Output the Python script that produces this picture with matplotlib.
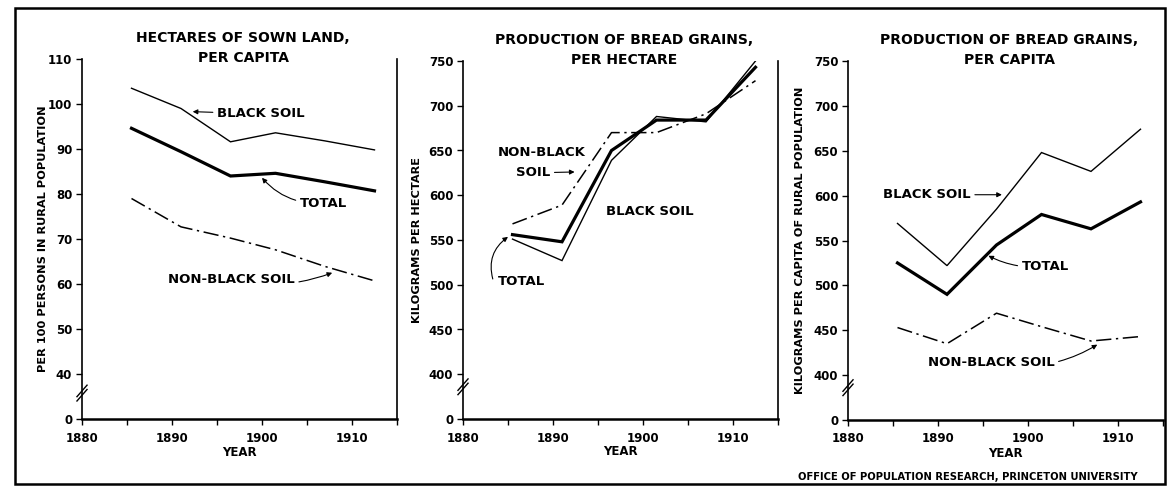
import numpy as np
import matplotlib.pyplot as plt
from matplotlib.patches import Rectangle

plt.rcParams['font.family'] = 'DejaVu Sans'
plt.rcParams['font.weight'] = 'bold'

### data
years = [1885.5, 1891, 1896.5, 1901.5, 1907, 1912.5]

# hectares of sown land per 100 persons in rural population
land_black = [103.5, 99.0, 91.6, 93.6, 91.8, 89.8]
land_total = [94.6, 89.4, 84.0, 84.6, 82.7, 80.7]
land_nonblack = [79.0, 72.7, 70.2, 67.6, 63.9, 60.7]

# kilograms of bread grains per hectare
yield_black = [551, 527, 639, 688, 682, 750]
yield_total = [556, 548, 650, 684, 684, 743]
yield_nonblack = [568, 589, 670, 670, 691, 728]

# kilograms of bread grains per capita of rural population
cap_black = [569, 522, 585, 648, 627, 674]
cap_total = [525, 490, 545, 579, 563, 593]
cap_nonblack = [453, 435, 469, 454, 438, 443]

land_ticks = [30, 40, 50, 60, 70, 80, 90, 100, 110]
land_ticklabels = ['0', '40', '50', '60', '70', '80', '90', '100', '110']
kg_ticks = [350, 400, 450, 500, 550, 600, 650, 700, 750]
kg_ticklabels = ['0', '400', '450', '500', '550', '600', '650', '700', '750']
year_ticks = [1880, 1890, 1900, 1910]
year_minor = [1885, 1895, 1905, 1915]

titles = ['HECTARES OF SOWN LAND,\nPER CAPITA',
          'PRODUCTION OF BREAD GRAINS,\nPER HECTARE',
          'PRODUCTION OF BREAD GRAINS,\nPER CAPITA']
ylabels = ['PER 100 PERSONS IN RURAL POPULATION',
           'KILOGRAMS PER HECTARE',
           'KILOGRAMS PER CAPITA OF RURAL POPULATION']

W, H = 1170, 486
fig = plt.figure(figsize=(W / 100, H / 100), dpi=100)


def px_axes(x0, x1, ytop, ybot):
    return fig.add_axes([x0 / W, 1 - ybot / H, (x1 - x0) / W, (ybot - ytop) / H])


ax1 = px_axes(82, 397, 59, 419)
ax2 = px_axes(463, 778, 61, 419)
ax3 = px_axes(848, 1163, 61, 420)
axes = [ax1, ax2, ax3]

dashdot = (0, (10, 3, 1.5, 3))
thin = 1.0
thick = 2.3

series = [(land_black, land_total, land_nonblack),
          (yield_black, yield_total, yield_nonblack),
          (cap_black, cap_total, cap_nonblack)]

for ax, (b, t, n) in zip(axes, series):
    ax.plot(years, b, color='k', lw=thin, solid_joinstyle='miter')
    ax.plot(years, t, color='k', lw=thick, solid_joinstyle='miter')
    ax.plot(years, n, color='k', lw=1.1, linestyle=dashdot)

ax1.set_ylim(30, 110)
ax1.set_yticks(land_ticks)
ax1.set_yticklabels(land_ticklabels)
for ax in (ax2, ax3):
    ax.set_ylim(350, 750)
    ax.set_yticks(kg_ticks)
    ax.set_yticklabels(kg_ticklabels)

brk = [0.072, 0.09, 0.09]
for i, ax in enumerate(axes):
    ax.set_xlim(1880, 1915)
    ax.set_xticks(year_ticks)
    ax.set_xticks(year_minor, minor=True)
    ax.tick_params(axis='both', which='both', direction='out', length=4,
                   width=1.0, labelsize=8.5, pad=3)
    ax.tick_params(axis='x', which='major', pad=5)
    ax.spines['top'].set_visible(False)
    for s in ('left', 'bottom', 'right'):
        ax.spines[s].set_linewidth(1.2)
    ax.spines['bottom'].set_linewidth(1.8)
    ax.patch.set_alpha(0)
    # title and labels
    ax.text(0.512, 1.03, titles[i], transform=ax.transAxes, ha='center',
            va='center', fontsize=10, linespacing=1.55)
    ax.text(0.5, -0.092, 'YEAR', transform=ax.transAxes, ha='center',
            va='center', fontsize=8.5)
    ylx = [-0.125, -0.147, -0.152][i]
    ax.text(ylx, 0.5, ylabels[i], transform=ax.transAxes, rotation=90,
            ha='center', va='center', fontsize=8.2)
    # axis break marks
    for dy in (-0.006, 0.006):
        ax.plot([-0.016, 0.016], [brk[i] + dy - 0.016, brk[i] + dy + 0.016],
                transform=ax.transAxes, color='k', lw=1.0, clip_on=False)

# last panel's right edge is the outer frame
ax3.spines['right'].set_visible(False)

arrow = dict(arrowstyle='-|>', color='k', lw=0.8, mutation_scale=7,
             shrinkA=1, shrinkB=0)
fs = 9.5

# panel 1 labels
ax1.annotate('BLACK SOIL', xy=(1892.3, 98.3), xytext=(1895.0, 97.8),
             ha='left', va='center', fontsize=fs,
             arrowprops=dict(arrow, connectionstyle='arc3,rad=0'))
ax1.annotate('TOTAL', xy=(1900.0, 83.6), xytext=(1904.2, 78.0),
             ha='left', va='center', fontsize=fs,
             arrowprops=dict(arrow, connectionstyle='arc3,rad=-0.25'))
ax1.annotate('NON-BLACK SOIL', xy=(1907.8, 62.5), xytext=(1896.6, 60.9),
             ha='center', va='center', fontsize=fs,
             arrowprops=dict(arrow, connectionstyle='arc3,rad=0.15'))

# panel 2 labels
ax2.text(1888.7, 648, 'NON-BLACK', ha='center', va='center', fontsize=fs)
ax2.annotate('SOIL', xy=(1892.4, 626), xytext=(1887.8, 625),
             ha='center', va='center', fontsize=fs,
             arrowprops=dict(arrow, connectionstyle='arc3,rad=0'))
ax2.text(1900.8, 581.5, 'BLACK SOIL', ha='center', va='center', fontsize=fs)
ax2.annotate('TOTAL', xy=(1885.0, 553.5), xytext=(1886.5, 503.5),
             ha='center', va='center', fontsize=fs,
             arrowprops=dict(arrow, connectionstyle='arc3,rad=-0.35',
                             relpos=(-0.1, 0.6)))

# panel 3 labels
ax3.annotate('BLACK SOIL', xy=(1897.1, 601), xytext=(1883.9, 601),
             ha='left', va='center', fontsize=fs,
             arrowprops=dict(arrow, connectionstyle='arc3,rad=0'))
ax3.annotate('TOTAL', xy=(1895.6, 533), xytext=(1899.3, 521),
             ha='left', va='center', fontsize=fs,
             arrowprops=dict(arrow, connectionstyle='arc3,rad=-0.15'))
ax3.annotate('NON-BLACK SOIL', xy=(1907.7, 434), xytext=(1895.9, 414),
             ha='center', va='center', fontsize=fs,
             arrowprops=dict(arrow, connectionstyle='arc3,rad=0.2'))

# outer frame and credit line
fig.add_artist(Rectangle((15 / W, 1 - 484 / H), 1150 / W, 476 / H,
                         transform=fig.transFigure, fill=False, lw=1.8,
                         color='k'))
fig.text(1138 / W, 1 - 477 / H,
         'OFFICE OF POPULATION RESEARCH, PRINCETON UNIVERSITY',
         ha='right', va='center', fontsize=7.2)

fig.savefig('out.png', dpi=100)
